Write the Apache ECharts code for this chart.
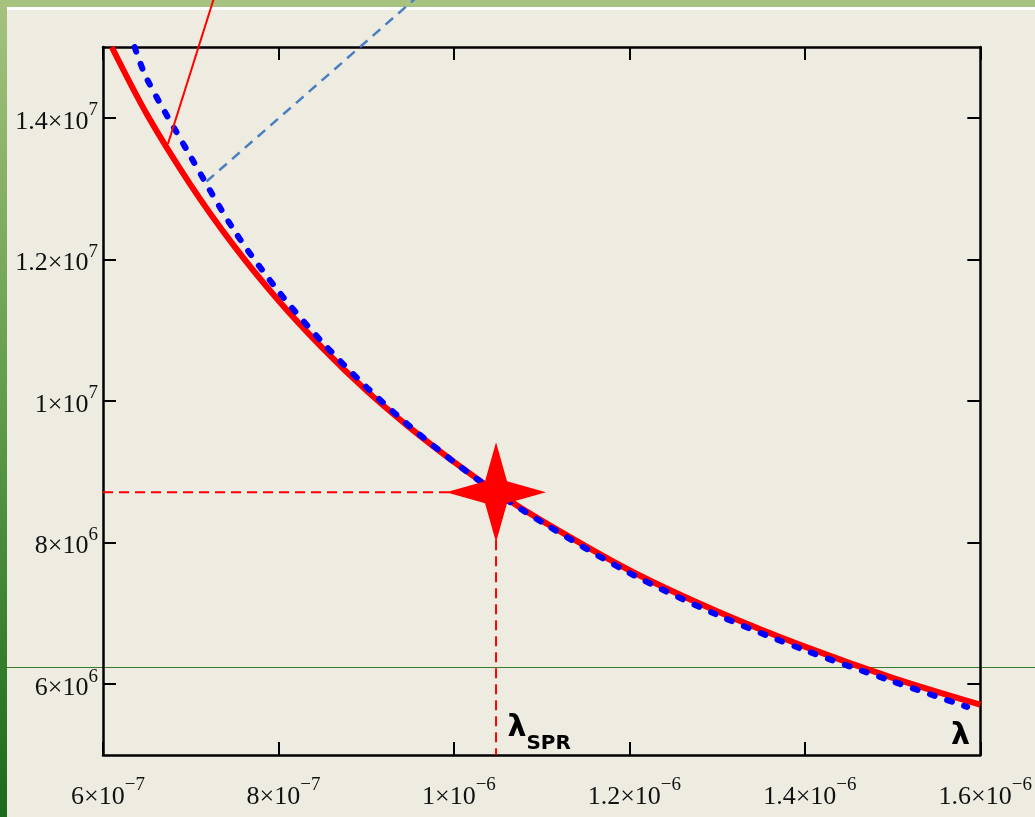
<!DOCTYPE html>
<html>
<head>
<meta charset="utf-8">
<script src="https://cdn.jsdelivr.net/npm/echarts@6/dist/echarts.min.js"></script>
<style>html,body{margin:0;padding:0;background:#EEEBE1;}#c{width:1035px;height:817px;}</style>
</head>
<body>
<div id="c"></div>
<script>
// Axis ticks / labels
const xTickValues = [6e-7, 8e-7, 1e-6, 1.2e-6, 1.4e-6, 1.6e-6];
const xTickMant = ['6', '8', '1', '1.2', '1.4', '1.6'];
const xTickExp = ['\u22127', '\u22127', '\u22126', '\u22126', '\u22126', '\u22126'];
const yTickValues = [6e6, 8e6, 1e7, 1.2e7, 1.4e7];
const yTickMant = ['6', '8', '1', '1.2', '1.4'];
const yTickExp = ['6', '6', '7', '7', '7'];

// Red solid curve
const redLambda = [6.1e-7, 6.5e-7, 7.0e-7, 7.5e-7, 8.0e-7, 8.5e-7, 9.0e-7, 9.5e-7, 1.0e-6, 1.05e-6, 1.1e-6, 1.2e-6, 1.3e-6, 1.4e-6, 1.5e-6, 1.6e-6];
const redValue  = [1.500e7, 1.405e7, 1.305e7, 1.218e7, 1.142e7, 1.075e7, 1.015e7, 9.62e6, 9.14e6, 8.70e6, 8.31e6, 7.61e6, 7.03e6, 6.53e6, 6.09e6, 5.71e6];

// Blue dotted curve
const blueLambda = [6.36e-7, 6.5e-7, 7.0e-7, 7.5e-7, 8.0e-7, 8.5e-7, 9.0e-7, 9.5e-7, 1.0e-6, 1.05e-6, 1.1e-6, 1.2e-6, 1.3e-6, 1.4e-6, 1.5e-6, 1.585e-6];
const blueValue  = [1.500e7, 1.455e7, 1.345e7, 1.240e7, 1.155e7, 1.083e7, 1.020e7, 9.64e6, 9.14e6, 8.69e6, 8.29e6, 7.57e6, 6.98e6, 6.48e6, 6.04e6, 5.68e6];

// Thin pointer lines
const redPointerLambda = [6.74e-7, 7.28e-7];
const redPointerValue = [1.363e7, 1.575e7];
const bluePointerLambda = [7.18e-7, 9.62e-7];
const bluePointerValue = [1.31e7, 1.575e7];

// SPR point
const sprLambda = 1.048e-6;
const sprValue = 8.71e6;
const xMin = 6e-7, xMax = 1.6e-6, yMin = 5e6, yMax = 1.5e7;

// Text annotations
const sprLabelPos = [1.0972e-6, 5.307e6];
const lambdaLabelPos = [1.5773e-6, 5.265e6];

const zip = (a, b) => a.map((v, i) => [v, b[i]]);
function nearestIdx(arr, v) {
  let best = 0, bd = Infinity;
  arr.forEach((t, i) => { const d = Math.abs(t - v); if (d < bd) { bd = d; best = i; } });
  return best;
}
const serif = 'Liberation Serif';
const richTick = {
  m: { fontFamily: serif, fontSize: 26, color: '#111', lineHeight: 34, verticalAlign: 'bottom' },
  e: { fontFamily: serif, fontSize: 19, color: '#111', lineHeight: 8, verticalAlign: 'top' }
};
const axisLineStyle = { color: '#000', width: 2.5 };
const tickStyle = { show: true, inside: true, length: 13, lineStyle: { color: '#000', width: 2 } };
const boldLabel = { fontFamily: 'DejaVu Sans', fontWeight: 'bold', color: '#000', textBorderWidth: 0, opacity: 1 };

const chart = echarts.init(document.getElementById('c'), null, { renderer: 'canvas' });
chart.setOption({
  backgroundColor: '#EEEBE1',
  animation: false,
  grid: { left: 103, right: 53, top: 47, bottom: 62, containLabel: false },
  graphic: [
    { type: 'rect', z: 0, silent: true, shape: { x: 0, y: 0, width: 1035, height: 7 }, style: { fill: '#A8C27F' } },
    { type: 'rect', z: 0, silent: true, shape: { x: 7, y: 7, width: 1028, height: 3 }, style: { fill: '#FFFFFF' } },
    { type: 'rect', z: 0, silent: true, shape: { x: 0, y: 0, width: 7, height: 817 },
      style: { fill: new echarts.graphic.LinearGradient(0, 0, 0, 1, [
        { offset: 0, color: '#A6C27E' }, { offset: 0.5, color: '#5F9B4A' }, { offset: 1, color: '#1C6A1C' }]) } },
    { type: 'line', z: 0, silent: true, shape: { x1: 7, y1: 667.5, x2: 1035, y2: 667.5 }, style: { stroke: '#3B7A2E', lineWidth: 1 } }
  ],
  xAxis: [
    { type: 'value', position: 'bottom', min: xMin, max: xMax, interval: 2e-7,
      axisLine: { show: true, lineStyle: axisLineStyle }, splitLine: { show: false },
      axisTick: Object.assign({ customValues: xTickValues }, tickStyle),
      axisLabel: { show: true, customValues: xTickValues, margin: 21, padding: [0, 0, 0, 10],
        formatter: v => { const i = nearestIdx(xTickValues, v); return '{m|' + xTickMant[i] + '\u00d710}{e|' + xTickExp[i] + '}'; },
        rich: richTick } },
    { type: 'value', position: 'top', min: xMin, max: xMax, interval: 2e-7,
      axisLine: { show: true, onZero: false, lineStyle: axisLineStyle }, splitLine: { show: false },
      axisTick: Object.assign({ customValues: xTickValues }, tickStyle),
      axisLabel: { show: false } }
  ],
  yAxis: [
    { type: 'value', position: 'left', min: yMin, max: yMax, interval: 1e6,
      axisLine: { show: true, onZero: false, lineStyle: axisLineStyle }, splitLine: { show: false },
      axisTick: Object.assign({ customValues: yTickValues }, tickStyle),
      axisLabel: { show: true, customValues: yTickValues, margin: 5,
        formatter: v => { const i = nearestIdx(yTickValues, v); return '{m|' + yTickMant[i] + '\u00d710}{e|' + yTickExp[i] + '}'; },
        rich: richTick } },
    { type: 'value', position: 'right', min: yMin, max: yMax, interval: 1e6,
      axisLine: { show: true, onZero: false, lineStyle: axisLineStyle }, splitLine: { show: false },
      axisTick: Object.assign({ customValues: yTickValues }, tickStyle),
      axisLabel: { show: false } }
  ],
  series: [
    { name: 'red', type: 'line', data: zip(redLambda, redValue), smooth: 0.3, showSymbol: false, symbol: 'none',
      lineStyle: { color: '#FF0000', width: 6 }, z: 3 },
    { name: 'blue', type: 'line', data: zip(blueLambda, blueValue), smooth: 0.3, showSymbol: false, symbol: 'none',
      lineStyle: { color: '#0000FF', width: 6, type: [5, 13], cap: 'round' }, z: 4 },
    { name: 'redPointer', type: 'line', data: zip(redPointerLambda, redPointerValue), clip: false, showSymbol: false, symbol: 'none',
      lineStyle: { color: '#FF0000', width: 2 }, z: 5 },
    { name: 'bluePointer', type: 'line', data: zip(bluePointerLambda, bluePointerValue), clip: false, showSymbol: false, symbol: 'none',
      lineStyle: { color: '#4A7FC0', width: 2.5, type: [10, 7] }, z: 5 },
    { name: 'sprH', type: 'line', data: [[xMin, sprValue], [sprLambda, sprValue]], showSymbol: false, symbol: 'none',
      lineStyle: { color: '#FF0000', width: 2, type: [10, 6] }, z: 5 },
    { name: 'sprV', type: 'line', data: [[sprLambda, sprValue], [sprLambda, yMin]], clip: false, showSymbol: false, symbol: 'none',
      lineStyle: { color: '#FF0000', width: 2, type: [10, 6] }, z: 5 },
    { name: 'star', type: 'scatter', data: [[sprLambda, sprValue]], symbolSize: 100,
      symbol: 'path://M50,0 L61,39 L100,50 L61,61 L50,100 L39,61 L0,50 L39,39 Z',
      itemStyle: { color: '#FF0000', opacity: 1 }, z: 6 },
    { name: 'labels', type: 'scatter', silent: true, symbolSize: 0.5, itemStyle: { color: '#EEEBE1', opacity: 1 },
      data: [
        { value: sprLabelPos, label: Object.assign({ show: true, position: 'inside', formatter: '{l|\u03bb}{s|SPR}',
          rich: { l: Object.assign({ fontSize: 30, lineHeight: 30, verticalAlign: 'top' }, boldLabel),
                  s: Object.assign({ fontSize: 20, lineHeight: 41, verticalAlign: 'bottom' }, boldLabel) } }, boldLabel) },
        { value: lambdaLabelPos, label: Object.assign({ show: true, position: 'inside', formatter: '\u03bb', fontSize: 30 }, boldLabel) }
      ], z: 7 }
  ]
});
</script>
</body>
</html>
